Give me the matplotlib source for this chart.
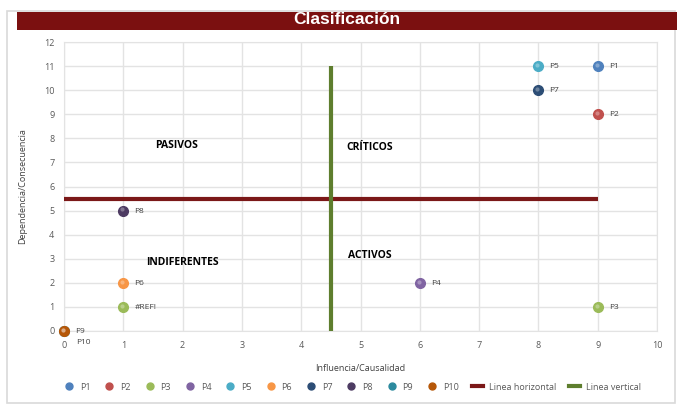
import matplotlib
matplotlib.use('Agg')
import matplotlib.pyplot as plt
from matplotlib.patches import Rectangle
from matplotlib.lines import Line2D
from matplotlib.transforms import offset_copy

plt.rcParams['font.family'] = ['Open Sans', 'DejaVu Sans']

# data
names = ['P1', 'P2', 'P3', 'P4', 'P5', 'P6', 'P7', 'P8', 'P9', 'P10']
influencia = [9, 9, 9, 6, 8, 1, 8, 1, 0, 0]
dependencia = [11, 9, 1, 2, 11, 2, 10, 5, 0, 0]
colors = ['#4F81BD', '#C0504D', '#9BBB59', '#8064A2', '#4BACC6',
          '#F79646', '#2C4D75', '#4D3B62', '#2C8A9E', '#B65708']
# extra point with broken reference (drawn in P3 colour)
ref_x, ref_y, ref_label = 1, 1, '#REF!'

h_line_x = [0, 9]
h_line_y = [5.5, 5.5]
v_line_x = [4.5, 4.5]
v_line_y = [0, 11]

quadrants = [('PASIVOS', 1.9, 7.7), ('CRÍTICOS', 5.15, 7.6),
             ('INDIFERENTES', 2.0, 2.85), ('ACTIVOS', 5.15, 3.15)]

W, H = 696, 416
fig = plt.figure(figsize=(W / 100, H / 100), dpi=100)
fig.patch.set_facecolor('white')

# chart frame and title bar
fig.add_artist(Rectangle((7 / W, 1 - 403 / H), 668 / W, 392 / H, transform=fig.transFigure,
                         facecolor='white', edgecolor='#D9D9D9', linewidth=1.2, zorder=-5))
fig.add_artist(Rectangle((17 / W, 1 - 30 / H), 660 / W, 18 / H, transform=fig.transFigure,
                         facecolor='#7B1010', edgecolor='none', zorder=-4))
fig.text(347 / W, 1 - 20 / H, 'Clasificación', color='white', fontsize=12.5,
         fontweight='bold', ha='center', va='center', family=['Liberation Sans', 'DejaVu Sans'])

ax = fig.add_axes([64 / W, 1 - 331 / H, 593 / W, 289 / H])
ax.set_facecolor('none')
ax.set_xlim(0, 10)
ax.set_ylim(0, 12)
ax.set_xticks(range(0, 11))
ax.set_yticks(range(0, 13))
ax.grid(True, color='#E3E3E3', linewidth=1)
ax.set_axisbelow(True)
for s in ax.spines.values():
    s.set_color('#E3E3E3')
ax.tick_params(length=0, labelsize=6.5, labelcolor='#595959', pad=7)

ax.plot(h_line_x, h_line_y, color='#7B1818', linewidth=3, solid_capstyle='butt', zorder=3)
ax.plot(v_line_x, v_line_y, color='#5E7E2E', linewidth=3, solid_capstyle='butt', zorder=4)

# small shine on the upper left of each marker
shine = offset_copy(ax.transData, fig=fig, x=-0.8, y=0.9, units='points')


def draw_point(x, y, c):
    ax.plot(x, y, 'o', color=c, markersize=7, markeredgecolor=c, zorder=5, clip_on=False)
    ax.plot(x, y, 'o', color='white', alpha=0.3, markersize=3, markeredgewidth=0,
            transform=shine, zorder=6, clip_on=False)


for n, x, y, c in zip(names, influencia, dependencia, colors):
    draw_point(x, y, c)
    if n == 'P10':
        ax.annotate(n, (x, y), xytext=(9, -8), textcoords='offset points',
                    fontsize=6, color='#404040', va='center')
    else:
        ax.annotate(n, (x, y), xytext=(8, -0.5), textcoords='offset points',
                    fontsize=6, color='#404040', va='center')

draw_point(ref_x, ref_y, colors[2])
ax.annotate(ref_label, (ref_x, ref_y), xytext=(8, -0.5), textcoords='offset points',
            fontsize=6, color='#404040', va='center')

for label, x, y in quadrants:
    ax.text(x, y, label, fontsize=7.5, fontweight='bold', ha='center', va='center', color='black')

ax.set_xlabel('Influencia/Causalidad', fontsize=6.5, color='#404040', labelpad=10)
ax.set_ylabel('Dependencia/Consecuencia', fontsize=6.5, color='#404040', labelpad=12)

handles = [Line2D([], [], marker='o', linestyle='none', color=c, markersize=5) for c in colors]
handles += [Line2D([], [], color='#7B1818', linewidth=3),
            Line2D([], [], color='#5E7E2E', linewidth=3)]
labels = names + ['Linea horizontal', 'Linea vertical']
fig.legend(handles, labels, loc='center', bbox_to_anchor=(352 / W, 1 - 387 / H), ncol=12,
           frameon=False, fontsize=6.5, labelcolor='#595959', handlelength=1.2,
           handletextpad=0.6, columnspacing=1.5)

fig.savefig('out.png', dpi=100)
